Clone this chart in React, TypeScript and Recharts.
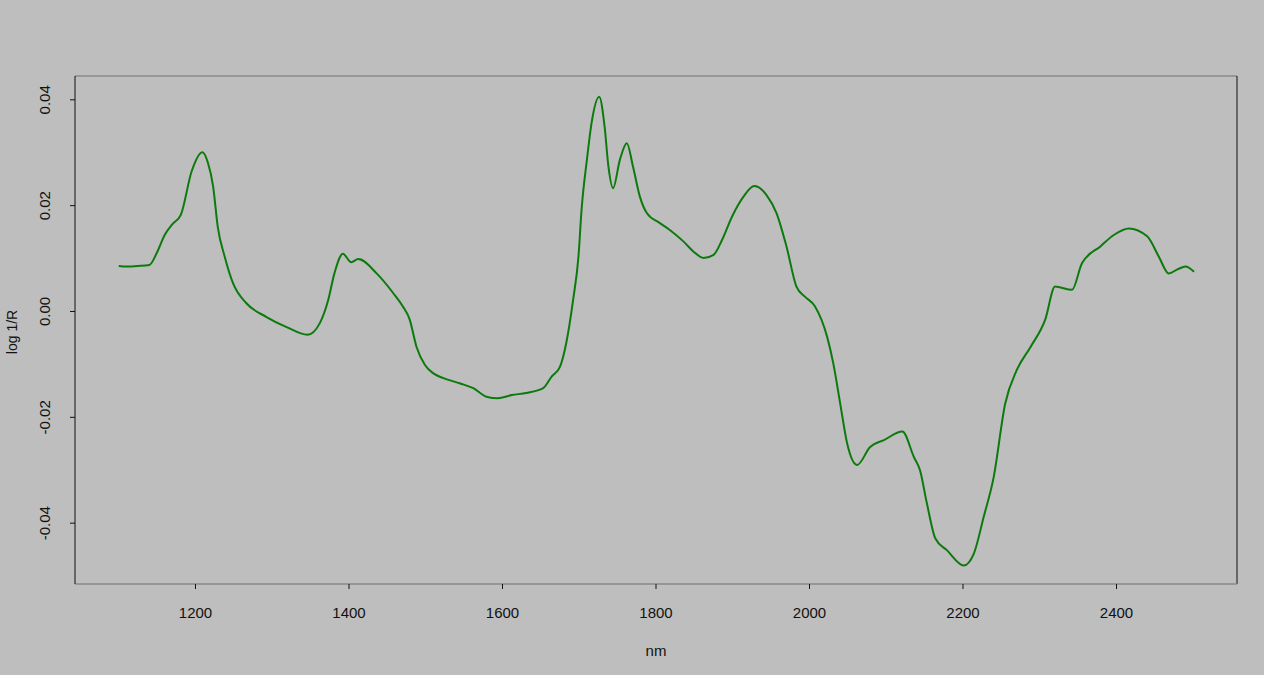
import React from 'react';
import { LineChart, Line, XAxis, YAxis, ReferenceLine } from 'recharts';

const wavelengths = [
  1100, 1110, 1125, 1140, 1150, 1160, 1170, 1181, 1195, 1209, 1216, 1223, 1229, 1238, 1249, 1266, 1292, 1318, 1346,
  1362, 1373, 1381, 1392, 1403, 1412, 1436, 1458, 1470, 1479, 1488, 1499, 1510, 1523, 1545, 1562, 1579, 1594, 1612,
  1631, 1653, 1664, 1675, 1683, 1692, 1699, 1703, 1710, 1716, 1726, 1733, 1738, 1744, 1753, 1762, 1770, 1779, 1788,
  1805, 1818, 1836, 1849, 1862, 1875, 1886, 1899, 1914, 1928, 1944, 1957, 1970, 1983, 1994, 2007, 2023, 2031, 2040,
  2049, 2062, 2079, 2097, 2121, 2136, 2144, 2153, 2164, 2179, 2201, 2214, 2227, 2240, 2255, 2270, 2288, 2307, 2320,
  2342, 2355, 2379, 2397, 2416, 2440, 2455, 2468, 2480, 2490, 2501,
];

const logR = [
  0.0086, 0.0085, 0.0086, 0.0088, 0.0112, 0.0145, 0.0165, 0.0183, 0.0265, 0.0301, 0.0282, 0.0236, 0.016, 0.0104, 0.0053,
  0.0016, -0.001, -0.0029, -0.0044, -0.0022, 0.0022, 0.0072, 0.0109, 0.0093, 0.0099, 0.0072, 0.0034, 0.001, -0.0015,
  -0.0067, -0.0101, -0.0117, -0.0126, -0.0136, -0.0145, -0.0161, -0.0164, -0.0158, -0.0154, -0.0145, -0.0123, -0.0104,
  -0.006, 0.0022, 0.0104, 0.0192, 0.0287, 0.0356, 0.0406, 0.035, 0.0274, 0.0233, 0.0287, 0.0318, 0.0274, 0.0217,
  0.0186, 0.0167, 0.0154, 0.0132, 0.0113, 0.0101, 0.0107, 0.0135, 0.0179, 0.0217, 0.0237, 0.022, 0.0186, 0.0123,
  0.0047, 0.0028, 0.001, -0.0048, -0.0098, -0.0174, -0.0249, -0.029, -0.0256, -0.0243, -0.0227, -0.0275, -0.03,
  -0.0363, -0.0429, -0.0451, -0.048, -0.0458, -0.0388, -0.0313, -0.0174, -0.0111, -0.0067, -0.0016, 0.0047, 0.0041,
  0.0091, 0.0123, 0.0145, 0.0157, 0.0142, 0.0104, 0.0072, 0.008, 0.0085, 0.0075,
];

const xTicks = [1200, 1400, 1600, 1800, 2000, 2200, 2400];
const yTicks = [-0.04, -0.02, 0.0, 0.02, 0.04];
const xDomain = [1043, 2557];
const yDomain = [-0.0515, 0.0445];

const data = wavelengths.map((nm, i) => ({ nm, v: logR[i] }));

const FONT = '"Liberation Sans", Arial, sans-serif';

const YTick = (props: any) => {
  const { x, y, payload } = props;
  const cx = x - 23;
  return (
    <text
      x={0}
      y={0}
      transform={`translate(${cx},${y}) rotate(-90)`}
      textAnchor="middle"
      dy="0.36em"
      fontSize={15}
      fontFamily={FONT}
      fill="#111"
    >
      {payload.value.toFixed(2)}
    </text>
  );
};

const YTitle = (props: any) => {
  const vb = props.viewBox || { x: 0, y: 0, width: 75, height: 508 };
  const cx = vb.x + 12;
  const cy = vb.y + vb.height / 2 + 2;
  return (
    <text
      x={cx}
      y={cy}
      transform={`rotate(-90 ${cx} ${cy})`}
      textAnchor="middle"
      dy="0.36em"
      fontSize={14}
      fontFamily={FONT}
      fill="#111"
    >
      log 1/R
    </text>
  );
};

export default function App() {
  return (
    <div style={{ position: 'absolute', left: 0, top: 0, width: 1264, height: 675, background: '#bebebe' }}>
      <LineChart width={1264} height={675} data={data} margin={{ top: 76, right: 27, bottom: 0, left: 0 }}>
        <XAxis
          dataKey="nm"
          type="number"
          domain={xDomain}
          ticks={xTicks}
          allowDataOverflow
          height={91}
          tickSize={5}
          tickMargin={18}
          axisLine={{ stroke: '#8a8a8a', strokeWidth: 1.5 }}
          tickLine={{ stroke: '#111' }}
          tick={{ fontSize: 15, fontFamily: FONT, fill: '#111' }}
          label={{ value: 'nm', position: 'insideBottom', offset: 19, fontSize: 15, fontFamily: FONT, fill: '#111' }}
        />
        <YAxis
          type="number"
          domain={yDomain}
          ticks={yTicks}
          allowDataOverflow
          width={75}
          tickSize={5}
          axisLine={{ stroke: '#111', strokeWidth: 1 }}
          tickLine={{ stroke: '#111' }}
          tick={<YTick />}
          label={<YTitle />}
        />
        <ReferenceLine y={yDomain[1]} stroke="#8a8a8a" strokeWidth={1.5} ifOverflow="visible" />
        <ReferenceLine x={xDomain[1]} stroke="#111" strokeWidth={1} ifOverflow="visible" />
        <Line
          type="monotone"
          dataKey="v"
          stroke="#0c7a0c"
          strokeWidth={2}
          dot={false}
          isAnimationActive={false}
        />
      </LineChart>
    </div>
  );
}
